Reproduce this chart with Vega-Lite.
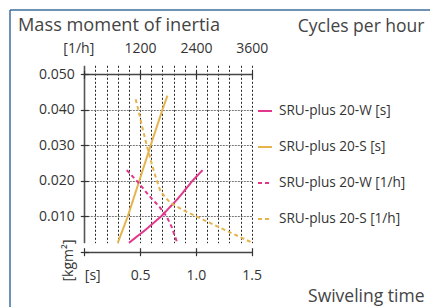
{
  "$schema": "https://vega.github.io/schema/vega-lite/v6.json",
  "width": 420,
  "height": 297,
  "autosize": "none",
  "padding": {"left": 10, "top": 10, "right": 0, "bottom": 0},
  "background": "white",
  "title": {"text": "Mass moment of inertia", "anchor": "start", "frame": "group", "fontSize": 18.2, "fontWeight": "normal", "color": "#444", "font": "Open Sans", "baseline": "alphabetic", "offset": 0, "dx": 8, "dy": 39},
  "config": {
    "font": "Open Sans",
    "view": {"stroke": "#3f6f9c", "strokeWidth": 1.5, "strokeDash": [420, 717, 297, 0]},
    "axis": {"labelFont": "Open Sans", "labelFontSize": 14, "labelColor": "#333", "labelFlush": false, "titleFont": "Open Sans", "titleFontSize": 17.5, "titleFontWeight": "normal", "titleColor": "#444", "domain": false, "tickColor": "#333", "tickWidth": 1.2}
  },
  "resolve": {"scale": {"x": "independent"}, "axis": {"x": "independent"}},
  "layer": [
    {
      "data": {"values": [
        {"series": "SRU-plus 20-W [s]", "time": 0.40, "inertia": 0.0025},
        {"series": "SRU-plus 20-W [s]", "time": 0.55, "inertia": 0.0062},
        {"series": "SRU-plus 20-W [s]", "time": 0.69, "inertia": 0.0100},
        {"series": "SRU-plus 20-W [s]", "time": 0.84, "inertia": 0.0150},
        {"series": "SRU-plus 20-W [s]", "time": 0.97, "inertia": 0.0200},
        {"series": "SRU-plus 20-W [s]", "time": 1.06, "inertia": 0.0230},
        {"series": "SRU-plus 20-S [s]", "time": 0.30, "inertia": 0.0025},
        {"series": "SRU-plus 20-S [s]", "time": 0.39, "inertia": 0.0100},
        {"series": "SRU-plus 20-S [s]", "time": 0.493, "inertia": 0.0200},
        {"series": "SRU-plus 20-S [s]", "time": 0.595, "inertia": 0.0300},
        {"series": "SRU-plus 20-S [s]", "time": 0.70, "inertia": 0.0400},
        {"series": "SRU-plus 20-S [s]", "time": 0.745, "inertia": 0.0440}
      ]},
      "mark": {"type": "line", "strokeWidth": 2},
      "encoding": {
        "x": {"field": "time", "type": "quantitative",
          "scale": {"domain": [0, 1.5], "range": [74.3, 241.7], "nice": false, "zero": false},
          "axis": {"orient": "bottom", "values": [0, 0.1, 0.2, 0.3, 0.4, 0.5, 0.6, 0.7, 0.8, 0.9, 1, 1.1, 1.2, 1.3, 1.4, 1.5],
            "offset": -59.3, "tickSize": 8,
            "tickOpacity": {"condition": {"test": "indexof([0, 0.5, 1, 1.5], datum.value) >= 0", "value": 1}, "value": 0},
            "grid": true,
            "gridDash": {"condition": {"test": "datum.value == 0", "value": []}, "value": [2, 2]},
            "gridColor": {"condition": {"test": "datum.value == 0", "value": "#555"}, "value": "#222"},
            "gridWidth": {"condition": {"test": "datum.value == 0", "value": 1.6}, "value": 1},
            "labelExpr": "datum.value == 0 ? '[s]' : (indexof([0.5, 1, 1.5], datum.value) >= 0 ? format(datum.value, '.1f') : '')",
            "labelOverlap": false, "labelPadding": 13,
            "labelAlign": {"condition": {"test": "datum.value == 0", "value": "left"}, "value": "center"},
            "title": "Swiveling time", "titleX": 414, "titleY": 58, "titleAlign": "right", "titleBaseline": "bottom", "titleAngle": 0}
        },
        "y": {"field": "inertia", "type": "quantitative",
          "scale": {"domain": [0, 0.05], "range": [241.7, 64.3], "nice": false, "zero": false},
          "axis": {"orient": "left", "values": [0, 0.01, 0.02, 0.03, 0.04, 0.05], "offset": -78.3, "tickSize": 8,
            "grid": true,
            "gridDash": {"condition": {"test": "datum.value == 0 || datum.value == 0.05", "value": []}, "value": [2, 1]},
            "gridColor": {"condition": {"test": "datum.value == 0 || datum.value == 0.05", "value": "#444"}, "value": "#777"},
            "gridWidth": {"condition": {"test": "datum.value == 0 || datum.value == 0.05", "value": 1.5}, "value": 1},
            "labelExpr": "datum.value == 0 ? '' : format(datum.value, '.3f')",
            "labelPadding": 6,
            "title": "[kgm²]", "titleAngle": 270, "titleX": -13, "titleY": 250, "titleAlign": "center", "titleBaseline": "bottom", "titleFontSize": 14, "titleColor": "#333"}
        },
        "color": {"field": "series", "type": "nominal",
          "scale": {"domain": ["SRU-plus 20-W [s]", "SRU-plus 20-S [s]", "SRU-plus 20-W [1/h]", "SRU-plus 20-S [1/h]"], "range": ["#e2378b", "#e5b44e", "#e2378b", "#e5b44e"]},
          "legend": {"orient": "none", "legendX": 247, "legendY": 93, "title": null, "symbolType": "stroke", "symbolSize": 196, "symbolStrokeWidth": 2, "labelFontSize": 13.6, "labelColor": "#333", "labelOffset": 6, "rowPadding": 21, "labelLimit": 300, "padding": 0}
        },
        "strokeDash": {"field": "series", "type": "nominal",
          "scale": {"domain": ["SRU-plus 20-W [s]", "SRU-plus 20-S [s]", "SRU-plus 20-W [1/h]", "SRU-plus 20-S [1/h]"], "range": [[1, 0], [1, 0], [4, 3], [4, 3]]},
          "legend": {"orient": "none", "legendX": 247, "legendY": 93, "title": null, "symbolType": "stroke", "symbolSize": 196, "symbolStrokeWidth": 2, "labelFontSize": 13.6, "labelColor": "#333", "labelOffset": 6, "rowPadding": 21, "labelLimit": 300, "padding": 0}
        }
      }
    },
    {
      "data": {"values": [
        {"series": "SRU-plus 20-W [1/h]", "cycles": 912, "inertia": 0.0230},
        {"series": "SRU-plus 20-W [1/h]", "cycles": 1162, "inertia": 0.0195},
        {"series": "SRU-plus 20-W [1/h]", "cycles": 1378, "inertia": 0.0160},
        {"series": "SRU-plus 20-W [1/h]", "cycles": 1613, "inertia": 0.0127},
        {"series": "SRU-plus 20-W [1/h]", "cycles": 1771, "inertia": 0.0099},
        {"series": "SRU-plus 20-W [1/h]", "cycles": 1879, "inertia": 0.0070},
        {"series": "SRU-plus 20-W [1/h]", "cycles": 1999, "inertia": 0.0025},
        {"series": "SRU-plus 20-S [1/h]", "cycles": 1104, "inertia": 0.0430},
        {"series": "SRU-plus 20-S [1/h]", "cycles": 1162, "inertia": 0.0400},
        {"series": "SRU-plus 20-S [1/h]", "cycles": 1248, "inertia": 0.0350},
        {"series": "SRU-plus 20-S [1/h]", "cycles": 1342, "inertia": 0.0300},
        {"series": "SRU-plus 20-S [1/h]", "cycles": 1428, "inertia": 0.0258},
        {"series": "SRU-plus 20-S [1/h]", "cycles": 1536, "inertia": 0.0210},
        {"series": "SRU-plus 20-S [1/h]", "cycles": 1642, "inertia": 0.0169},
        {"series": "SRU-plus 20-S [1/h]", "cycles": 1848, "inertia": 0.0138},
        {"series": "SRU-plus 20-S [1/h]", "cycles": 2112, "inertia": 0.0118},
        {"series": "SRU-plus 20-S [1/h]", "cycles": 2400, "inertia": 0.0100},
        {"series": "SRU-plus 20-S [1/h]", "cycles": 2880, "inertia": 0.0070},
        {"series": "SRU-plus 20-S [1/h]", "cycles": 3240, "inertia": 0.0048},
        {"series": "SRU-plus 20-S [1/h]", "cycles": 3600, "inertia": 0.0026}
      ]},
      "mark": {"type": "line", "strokeWidth": 2},
      "encoding": {
        "x": {"field": "cycles", "type": "quantitative",
          "scale": {"domain": [0, 3600], "range": [74.3, 241.7], "nice": false, "zero": false},
          "axis": {"orient": "top", "values": [0, 1200, 2400, 3600], "offset": -68.3, "tickSize": 8, "grid": false,
            "format": "d",
            "labelExpr": "datum.value == 0 ? '[1/h]' : datum.label",
            "labelOverlap": false, "labelPadding": 15,
            "labelOffset": {"condition": {"test": "datum.value == 0", "value": -6}, "value": 0},
            "title": "Cycles per hour", "titleX": 414, "titleY": -47.3, "titleAlign": "right", "titleBaseline": "alphabetic", "titleAngle": 0}
        },
        "y": {"field": "inertia", "type": "quantitative",
          "scale": {"domain": [0, 0.05], "range": [241.7, 64.3], "nice": false, "zero": false},
          "axis": {"orient": "left", "values": [0, 0.01, 0.02, 0.03, 0.04, 0.05], "offset": -78.3, "tickSize": 8,
            "grid": true,
            "gridDash": {"condition": {"test": "datum.value == 0 || datum.value == 0.05", "value": []}, "value": [2, 1]},
            "gridColor": {"condition": {"test": "datum.value == 0 || datum.value == 0.05", "value": "#444"}, "value": "#777"},
            "gridWidth": {"condition": {"test": "datum.value == 0 || datum.value == 0.05", "value": 1.5}, "value": 1},
            "labelExpr": "datum.value == 0 ? '' : format(datum.value, '.3f')",
            "labelPadding": 6,
            "title": "[kgm²]", "titleAngle": 270, "titleX": -13, "titleY": 250, "titleAlign": "center", "titleBaseline": "bottom", "titleFontSize": 14, "titleColor": "#333"}
        },
        "color": {"field": "series", "type": "nominal",
          "scale": {"domain": ["SRU-plus 20-W [s]", "SRU-plus 20-S [s]", "SRU-plus 20-W [1/h]", "SRU-plus 20-S [1/h]"], "range": ["#e2378b", "#e5b44e", "#e2378b", "#e5b44e"]},
          "legend": {"orient": "none", "legendX": 247, "legendY": 93, "title": null, "symbolType": "stroke", "symbolSize": 196, "symbolStrokeWidth": 2, "labelFontSize": 13.6, "labelColor": "#333", "labelOffset": 6, "rowPadding": 21, "labelLimit": 300, "padding": 0}
        },
        "strokeDash": {"field": "series", "type": "nominal",
          "scale": {"domain": ["SRU-plus 20-W [s]", "SRU-plus 20-S [s]", "SRU-plus 20-W [1/h]", "SRU-plus 20-S [1/h]"], "range": [[1, 0], [1, 0], [4, 3], [4, 3]]},
          "legend": {"orient": "none", "legendX": 247, "legendY": 93, "title": null, "symbolType": "stroke", "symbolSize": 196, "symbolStrokeWidth": 2, "labelFontSize": 13.6, "labelColor": "#333", "labelOffset": 6, "rowPadding": 21, "labelLimit": 300, "padding": 0}
        }
      }
    }
  ]
}
